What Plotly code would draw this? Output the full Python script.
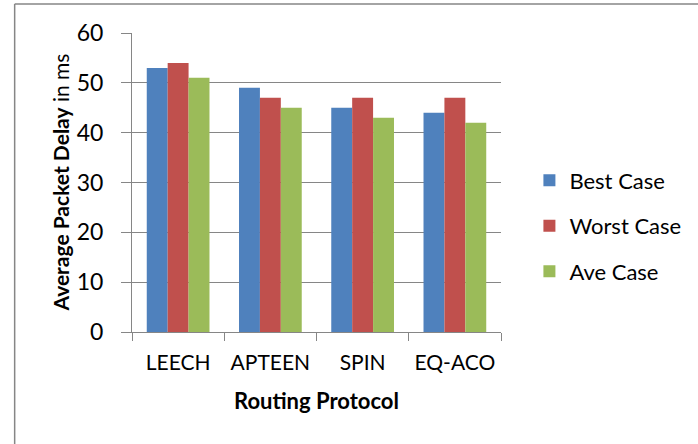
import plotly.graph_objects as go

protocols = ["LEECH", "APTEEN", "SPIN", "EQ-ACO"]
best_case = [53, 49, 45, 44]
worst_case = [54, 47, 47, 47]
ave_case = [51, 45, 43, 42]
y_ticks = [0, 10, 20, 30, 40, 50, 60]

FONT = "Lato, Calibri, sans-serif"
GRID = "#868686"

fig = go.Figure()
for name, vals, col in [("Best Case", best_case, "#4F81BD"),
                        ("Worst Case", worst_case, "#C0504D"),
                        ("Ave Case", ave_case, "#9BBB59")]:
    fig.add_trace(go.Bar(name=name, x=protocols, y=vals, legendgroup=name,
                         marker=dict(color=col, line=dict(width=0))))

fig.update_layout(
    width=698, height=444,
    margin=dict(l=132, r=189, t=33, b=112),
    paper_bgcolor="white", plot_bgcolor="white",
    barmode="group", bargap=0.32, bargroupgap=0,
    font=dict(family=FONT, color="black", size=18),
    showlegend=True,
    legend=dict(x=1.077, xanchor="left", y=0.355, yanchor="middle",
                font=dict(size=22), itemwidth=30, traceorder="grouped", tracegroupgap=14,
                bgcolor="rgba(0,0,0,0)"),
    shapes=[dict(type="line", xref="paper", yref="paper", x0=-0.318, x1=1.6, y0=1.097, y1=1.097,
                 line=dict(color=GRID, width=1.5)),
            dict(type="line", xref="paper", yref="paper", x0=-0.318, x1=-0.318, y0=1.097, y1=-0.5,
                 line=dict(color=GRID, width=1.5))],
    annotations=[dict(text="<b>Average Packet Delay</b> in ms", xref="paper", yref="paper",
                      x=-0.195, y=0.5, xanchor="center", yanchor="middle", textangle=-90,
                      showarrow=False, font=dict(size=21))],
)
fig.update_yaxes(range=[0, 60], tickvals=y_ticks, showgrid=True, gridcolor=GRID, gridwidth=1,
                 showline=True, linecolor=GRID, linewidth=1, ticks="outside", ticklen=10,
                 tickcolor=GRID, tickfont=dict(size=23), ticklabelstandoff=13, zeroline=False)
fig.update_xaxes(showline=True, linecolor=GRID, linewidth=1, ticks="outside", ticklen=8,
                 tickcolor=GRID, tickson="boundaries", tickfont=dict(size=21), ticklabelstandoff=12,
                 title=dict(text="<b>Routing Protocol</b>", font=dict(size=22), standoff=20))

fig.write_html("out.html", config={"displayModeBar": False},
               post_script="document.body.style.margin='0px';")
